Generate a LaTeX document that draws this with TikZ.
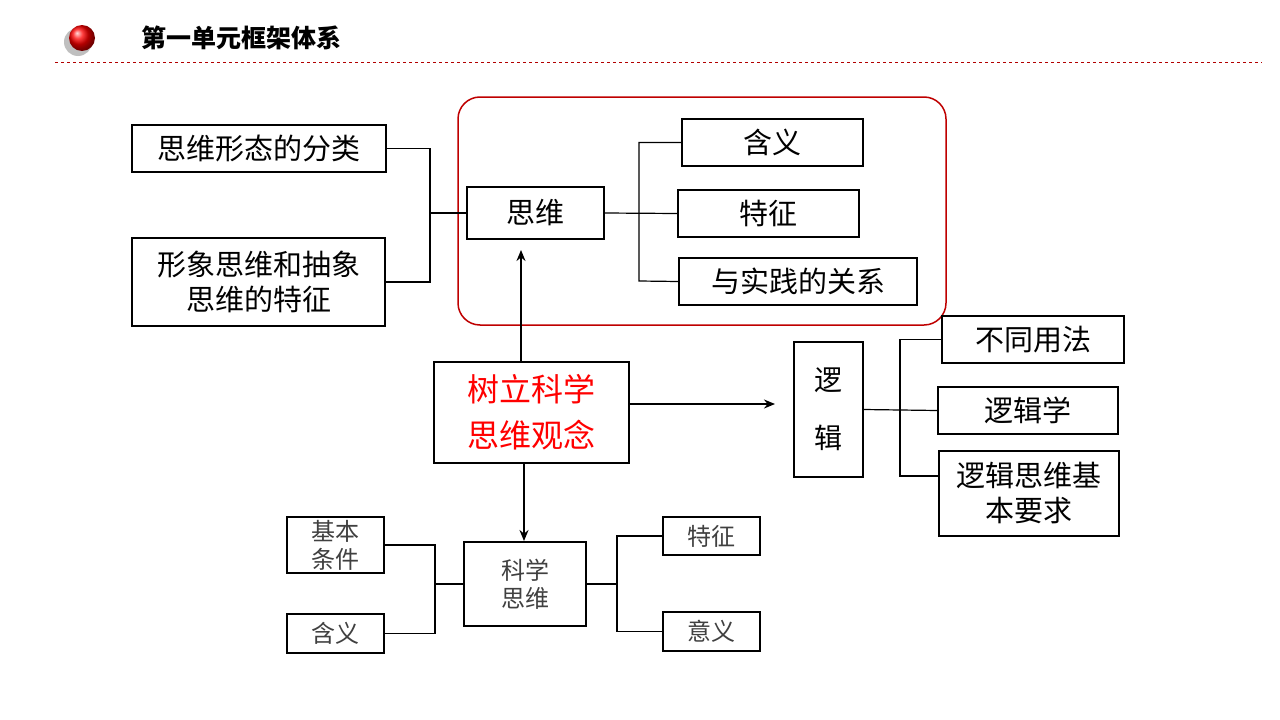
\documentclass[tikz,border=0pt]{standalone}
\usepackage{fontspec}
\setmainfont{Noto Sans CJK SC}
\usetikzlibrary{arrows.meta}
\begin{document}
\begin{tikzpicture}[x=1pt,y=-1pt,
 bx/.style={draw,line width=1.3pt,inner sep=0,font=\fontsize{29}{35}\selectfont,align=center},
 sb/.style={draw,line width=1.3pt,inner sep=0,font=\fontsize{24}{28}\selectfont\color{black!75},align=center},
 ln/.style={line width=1.2pt},
 ar/.style={line width=1.8pt,-{Stealth[length=11pt,width=9pt]}}]
\useasboundingbox (0,0) rectangle (1280,720);
\fill[white] (0,0) rectangle (1280,720);
\fill[black!25] (78,42) circle (14);
\shade[ball color=red] (82,38) circle (13);
\node[anchor=west,font=\fontsize{25}{28}\selectfont\bfseries] (title) at (138,38) {第一单元框架体系};
\draw[red!70!black,dashed,line width=0.6pt] (55,62) -- (1262,62);
\draw[red!75!black,line width=1.5pt,rounded corners=22] (458,97) rectangle (946,325);
% top-left group
\node[bx,minimum width=254,minimum height=47] (a1) at (259,148.5) {思维形态的分类};
\node[bx,minimum width=253,minimum height=88] (a2) at (258.5,282) {形象思维和抽象\\思维的特征};
\node[bx,minimum width=137,minimum height=52] (sw) at (535.5,213) {思维};
\node[bx,minimum width=181,minimum height=47] (b1) at (772.5,142.5) {含义};
\node[bx,minimum width=181,minimum height=47] (b2) at (768.5,213.5) {特征};
\node[bx,minimum width=238,minimum height=47] (b3) at (798,281.5) {与实践的关系};
\draw[ln] (a1.east) -| (430,213) (a2.east) -| (430,213) -- (sw.west);
\draw[ln] (sw.east) -- (b2.west);
\draw[ln] (b1.west) -| (639,281) -- (b3.west);
% center
\node[bx,line width=2pt,minimum width=195,minimum height=101,text=red,font=\fontsize{32}{46}\selectfont] (c) at (531.5,412.5) {树立科学\\思维观念};
\draw[ar] (521,362) -- (521,250);
\coordinate (sw2top) at (524,541);
\draw[ar] (524,463) -- (sw2top);
\node[bx,minimum width=69,minimum height=135,font=\fontsize{28}{58}\selectfont] (lj) at (828.5,409.5) {逻\\辑};
\coordinate (rt) at (775,404);
\draw[ar] (629,404) -- (rt);
\node[bx,minimum width=182,minimum height=47] (d1) at (1033,339.5) {不同用法};
\node[bx,minimum width=180,minimum height=47] (d2) at (1028,410.5) {逻辑学};
\node[bx,minimum width=180,minimum height=85] (d3) at (1029,493.5) {逻辑思维基\\本要求};
\draw[ln] (d1.west) -| (900,476) -- (939,476);
\draw[ln] (lj.east) -- (d2.west);
% bottom
\node[sb,minimum width=122,minimum height=84] (k) at (525,584) {科学\\思维};
\node[sb,minimum width=97,minimum height=56] (e1) at (335.5,545) {基本\\条件};
\node[sb,minimum width=97,minimum height=39] (e2) at (335.5,633.5) {含义};
\node[sb,minimum width=97,minimum height=38] (f1) at (711.5,536) {特征};
\node[sb,minimum width=97,minimum height=39] (f2) at (711.5,631.5) {意义};
\draw[ln] (e1.east) -| (435,633.5) -- (e2.east);
\draw[ln] (435,584) -- (k.west);
\draw[ln] (f1.west) -| (617,631.5) -- (f2.west);
\draw[ln] (617,584) -- (k.east);
\end{tikzpicture}
\end{document}
